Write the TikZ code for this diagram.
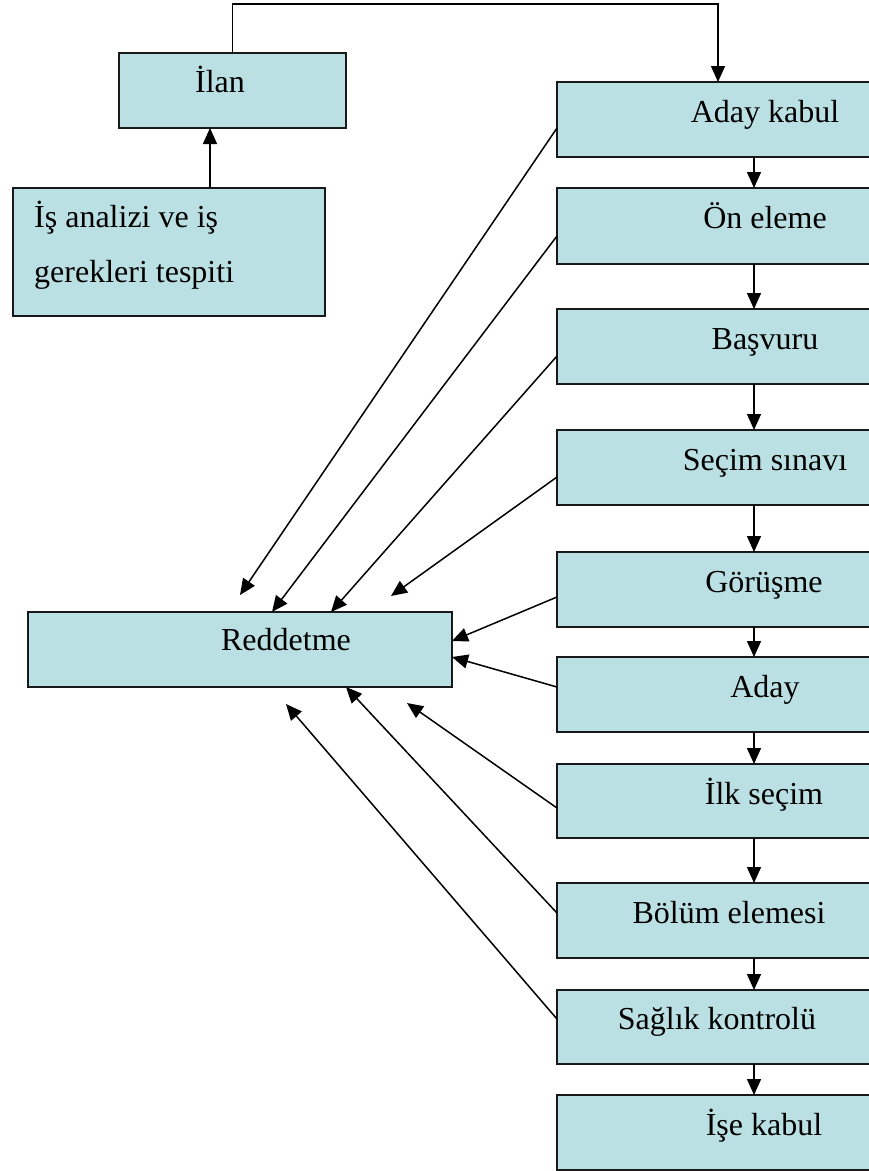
\documentclass[tikz,border=0pt]{standalone}
\usepackage{fontspec}
\setmainfont{Liberation Serif}
\usetikzlibrary{arrows.meta,calc}
\definecolor{boxfill}{RGB}{186,224,227}
\tikzset{
  box/.style={draw=black!90, fill=boxfill, line width=1.7pt, rectangle, inner sep=0pt, outer sep=0pt, anchor=north west},
  lbl/.style={font=\fontsize{32}{55}\selectfont, inner sep=0pt, anchor=base},
  arr/.style={line width=1.5pt, -{Triangle[length=16pt,width=14pt]}},
  ln/.style={line width=1.5pt}
}
\begin{document}
\begin{tikzpicture}[x=1pt,y=-1pt]
\useasboundingbox (0,0) rectangle (869,1171);
\clip (0,0) rectangle (869,1171);
% boxes
\node[box, minimum width=227pt, minimum height=75pt] (ilan) at (119,53) {};
\node[box, minimum width=312pt, minimum height=128pt] (is) at (13,188) {};
\node[box, minimum width=424pt, minimum height=75pt] (red) at (28,612) {};
\node[box, minimum width=350pt, minimum height=75pt] (ak) at (557,82) {};
\node[box, minimum width=350pt, minimum height=76pt] (oe) at (557,188) {};
\node[box, minimum width=350pt, minimum height=75pt] (bv) at (557,309) {};
\node[box, minimum width=350pt, minimum height=75pt] (ss) at (557,430) {};
\node[box, minimum width=350pt, minimum height=75pt] (gr) at (557,552) {};
\node[box, minimum width=350pt, minimum height=75pt] (ad) at (557,657) {};
\node[box, minimum width=350pt, minimum height=74pt] (ik) at (557,764) {};
\node[box, minimum width=350pt, minimum height=75pt] (be) at (557,883) {};
\node[box, minimum width=350pt, minimum height=74pt] (sk) at (557,990) {};
\node[box, minimum width=350pt, minimum height=75pt] (isk) at (557,1095) {};
% labels
\node[lbl] (tilan) at (220,92) {İlan};
\node[lbl, anchor=base west, align=left] (tis) at (34,282) {İş analizi ve iş\\gerekleri tespiti};
\node[lbl] (tred) at (286,650) {Reddetme};
\node[lbl] (tak) at (765,122) {Aday kabul};
\node[lbl] (toe) at (765,228) {Ön eleme};
\node[lbl] (tbv) at (765,349) {Başvuru};
\node[lbl] (tss) at (765,470) {Seçim sınavı};
\node[lbl] (tgr) at (764,592) {Görüşme};
\node[lbl] (tad) at (765,697) {Aday};
\node[lbl] (tik) at (764,804) {İlk seçim};
\node[lbl] (tbe) at (729,923) {Bölüm elemesi};
\node[lbl] (tsk) at (717,1029) {Sağlık kontrolü};
\node[lbl] (tisk) at (764,1135) {İşe kabul};
% helper coordinates
\coordinate (xi) at (210,0);
\coordinate (xr) at (754,0);
\coordinate (ctop) at (718,4);
% top connectors
\draw[arr] (is.north -| xi) -- (ilan.south -| xi);
\draw[arr] (ilan.north) |- (ctop) -- (ctop |- ak.north);
% vertical chain
\draw[arr] (ak.south -| xr) -- (oe.north -| xr);
\draw[arr] (oe.south -| xr) -- (bv.north -| xr);
\draw[arr] (bv.south -| xr) -- (ss.north -| xr);
\draw[arr] (ss.south -| xr) -- (gr.north -| xr);
\draw[arr] (gr.south -| xr) -- (ad.north -| xr);
\draw[arr] (ad.south -| xr) -- (ik.north -| xr);
\draw[arr] (ik.south -| xr) -- (be.north -| xr);
\draw[arr] (be.south -| xr) -- (sk.north -| xr);
\draw[arr] (sk.south -| xr) -- (isk.north -| xr);
% rejection arrows
\coordinate (t1) at (240,595);
\coordinate (t4) at (391,596);
\coordinate (t7) at (407,703);
\coordinate (t9) at (286,704);
\draw[arr] ($(ak.north west)+(0,46)$) -- (t1);
\draw[arr] ($(oe.north west)+(0,48)$) -- ($(red.north west)+(244,0)$);
\draw[arr] ($(bv.north west)+(0,47)$) -- ($(red.north west)+(303,0)$);
\draw[arr] ($(ss.north west)+(0,47)$) -- (t4);
\draw[arr] ($(gr.north west)+(0,45)$) -- ($(red.north east)+(0,29)$);
\draw[arr] ($(ad.north west)+(0,30)$) -- ($(red.north east)+(0,45)$);
\draw[arr] ($(ik.north west)+(0,44)$) -- (t7);
\draw[arr] ($(be.north west)+(0,30)$) -- ($(red.south west)+(318,0)$);
\draw[arr] ($(sk.north west)+(0,29)$) -- (t9);
\end{tikzpicture}
\end{document}
